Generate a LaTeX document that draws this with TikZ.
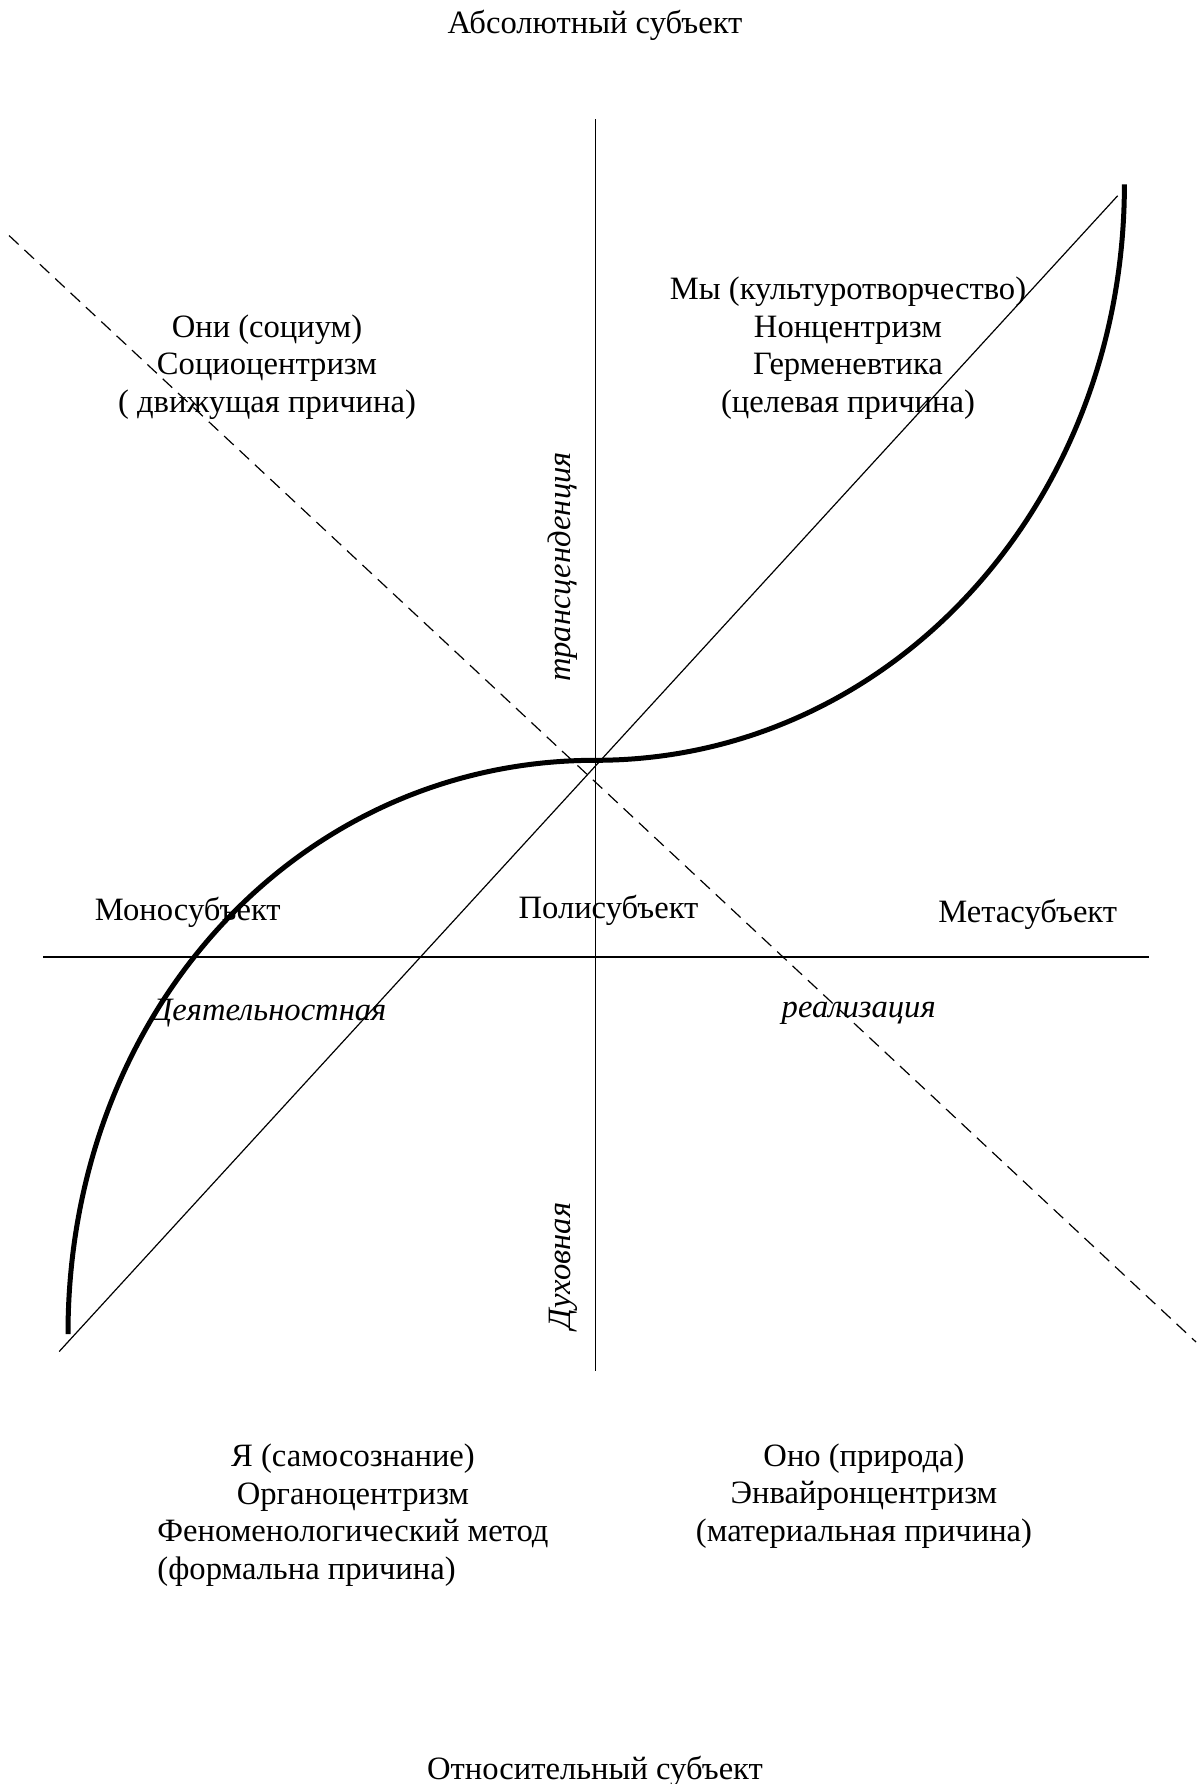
\documentclass[tikz,border=0pt]{standalone}
\usepackage{fontspec}
\setmainfont{Liberation Serif}
\usepackage{calc}
\begin{document}
\begin{tikzpicture}[x=1pt,y=-1pt,
  txt/.style={font=\fontsize{32.6}{37.5}\selectfont, inner sep=0pt, align=center},
  itxt/.style={font=\fontsize{32.6}{37.5}\selectfont\itshape, inner sep=0pt},
  axis/.style={line width=1.3pt},
  diag/.style={line width=1.2pt},
  dashdiag/.style={line width=1.2pt, dash pattern=on 13pt off 8pt},
  thick curve/.style={line width=5pt}]
\useasboundingbox (0,0) rectangle (1203,1784);
% coordinates
\coordinate (vtop) at (595.3,119.5);
\coordinate (vbot) at (595.3,1371.4);
\coordinate (hl) at (43.2,957.1);
\coordinate (hr) at (1148.5,957.1);
\coordinate (d1s) at (59.2,1351.5);
\coordinate (d1e) at (1117.6,195.8);
\coordinate (d2s) at (9.1,235.6);
\coordinate (d2e) at (1196,1342);
\coordinate (cA) at (68,1334);
\coordinate (cM) at (595.3,760.3);
\coordinate (cE) at (1124.4,184.4);
% lines
\draw[axis] (vtop) -- (vbot);
\draw[axis] (hl) -- (hr);
\draw[diag] (d1s) -- (d1e);
\draw[dashdiag] (d2s) -- (d2e);
\draw[thick curve] (cA) .. controls (68,1010) and (300,760.3) .. (cM)
  .. controls (890,760.3) and (1124.4,505) .. (cE);
% texts
\node[txt] (abs) at (595,25) {Абсолютный субъект};
\node[txt] (rel) at (595,1771) {Относительный субъект};
\node[txt] (we) at (848,348) {Мы (культуротворчество)\\Нонцентризм\\Герменевтика\\(целевая причина)};
\node[txt] (they) at (267,367) {Они (социум)\\Социоцентризм\\( движущая причина)};
\node[txt] (mono) at (187.8,912.7) {Моносубъект};
\node[txt] (poli) at (608.5,910.5) {Полисубъект};
\node[txt] (meta) at (1027.7,913.9) {Метасубъект};
\node[itxt] (act) at (269,1013) {Деятельностная};
\node[itxt] (real) at (858.7,1013) {реализация};
\node[itxt, rotate=90] (trans) at (563,567) {трансценденция};
\node[itxt, rotate=90] (spir) at (563,1266) {Духовная};
\node[txt] (ego) at (353,1515) {Я (самосознание)\\Органоцентризм\\Феноменологический метод\\\makebox[\widthof{Феноменологический метод}][l]{(формальна причина)}};
\node[txt] (it) at (864,1496) {Оно (природа)\\Энвайронцентризм\\(материальная причина)};
\end{tikzpicture}
\end{document}
